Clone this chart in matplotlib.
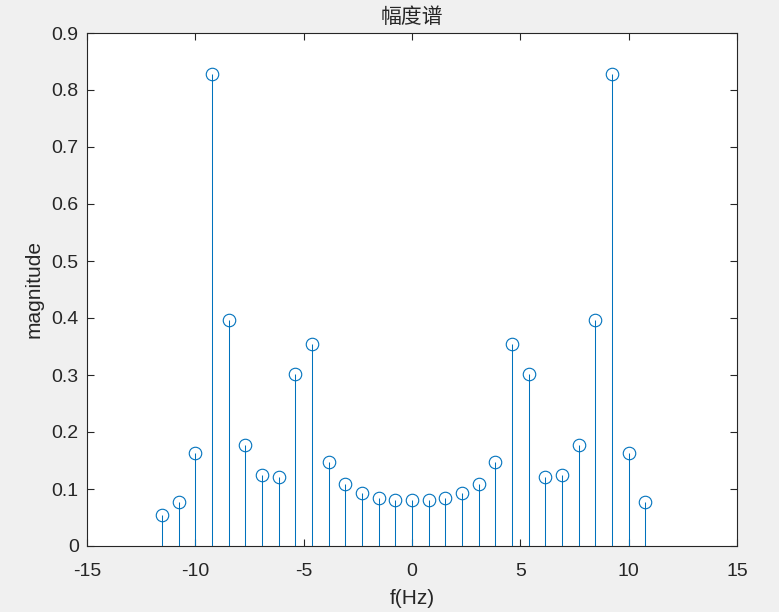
import numpy as np
import matplotlib
matplotlib.use('Agg')
import matplotlib.pyplot as plt

plt.rcParams['font.family'] = ['Liberation Sans', 'Noto Sans CJK SC', 'DejaVu Sans']
plt.rcParams['axes.unicode_minus'] = False

# frequency bin index and magnitudes
k = np.arange(-15, 15)
df = 10 / 13
mag = [0.055, 0.077, 0.164, 0.828, 0.396, 0.178, 0.124, 0.121, 0.301, 0.354,
       0.147, 0.109, 0.093, 0.085, 0.081, 0.080, 0.081, 0.085, 0.093, 0.109,
       0.147, 0.354, 0.301, 0.121, 0.124, 0.178, 0.396, 0.828, 0.164, 0.077]
freq = k * df

blue = '#0072BD'
dark = '#262626'

fig = plt.figure(figsize=(7.79, 6.12), dpi=100, facecolor='#F0F0F0')
ax = fig.add_axes([87 / 779, 66 / 612, 650 / 779, 513 / 612])

markerline, stemlines, baseline = ax.stem(freq, mag, basefmt=' ')
plt.setp(stemlines, color=blue, linewidth=0.75)
plt.setp(markerline, color=blue, marker='o', markerfacecolor='none',
         markersize=9, markeredgewidth=0.8)

ax.set_xlim(-15, 15)
ax.set_ylim(0, 0.9)
ax.set_xticks(np.arange(-15, 16, 5))
ax.set_yticks(np.arange(0, 0.91, 0.1))
ax.set_yticklabels(['0'] + ['%.1f' % v for v in np.arange(0.1, 0.91, 0.1)])

ax.tick_params(direction='in', length=5, width=0.8, colors=dark,
               labelsize=14, top=True, right=True, pad=6)
ax.tick_params(axis='x', pad=12)
for s in ax.spines.values():
    s.set_color(dark)
    s.set_linewidth(0.8)

ax.set_title('幅度谱', fontsize=15, color=dark, pad=7,
             family=['Noto Sans CJK SC', 'DejaVu Sans'])
ax.set_xlabel('f(Hz)', fontsize=15, color=dark, labelpad=7)
ax.set_ylabel('magnitude', fontsize=15, color=dark, labelpad=6)

fig.savefig('out.png', dpi=100, facecolor=fig.get_facecolor())
